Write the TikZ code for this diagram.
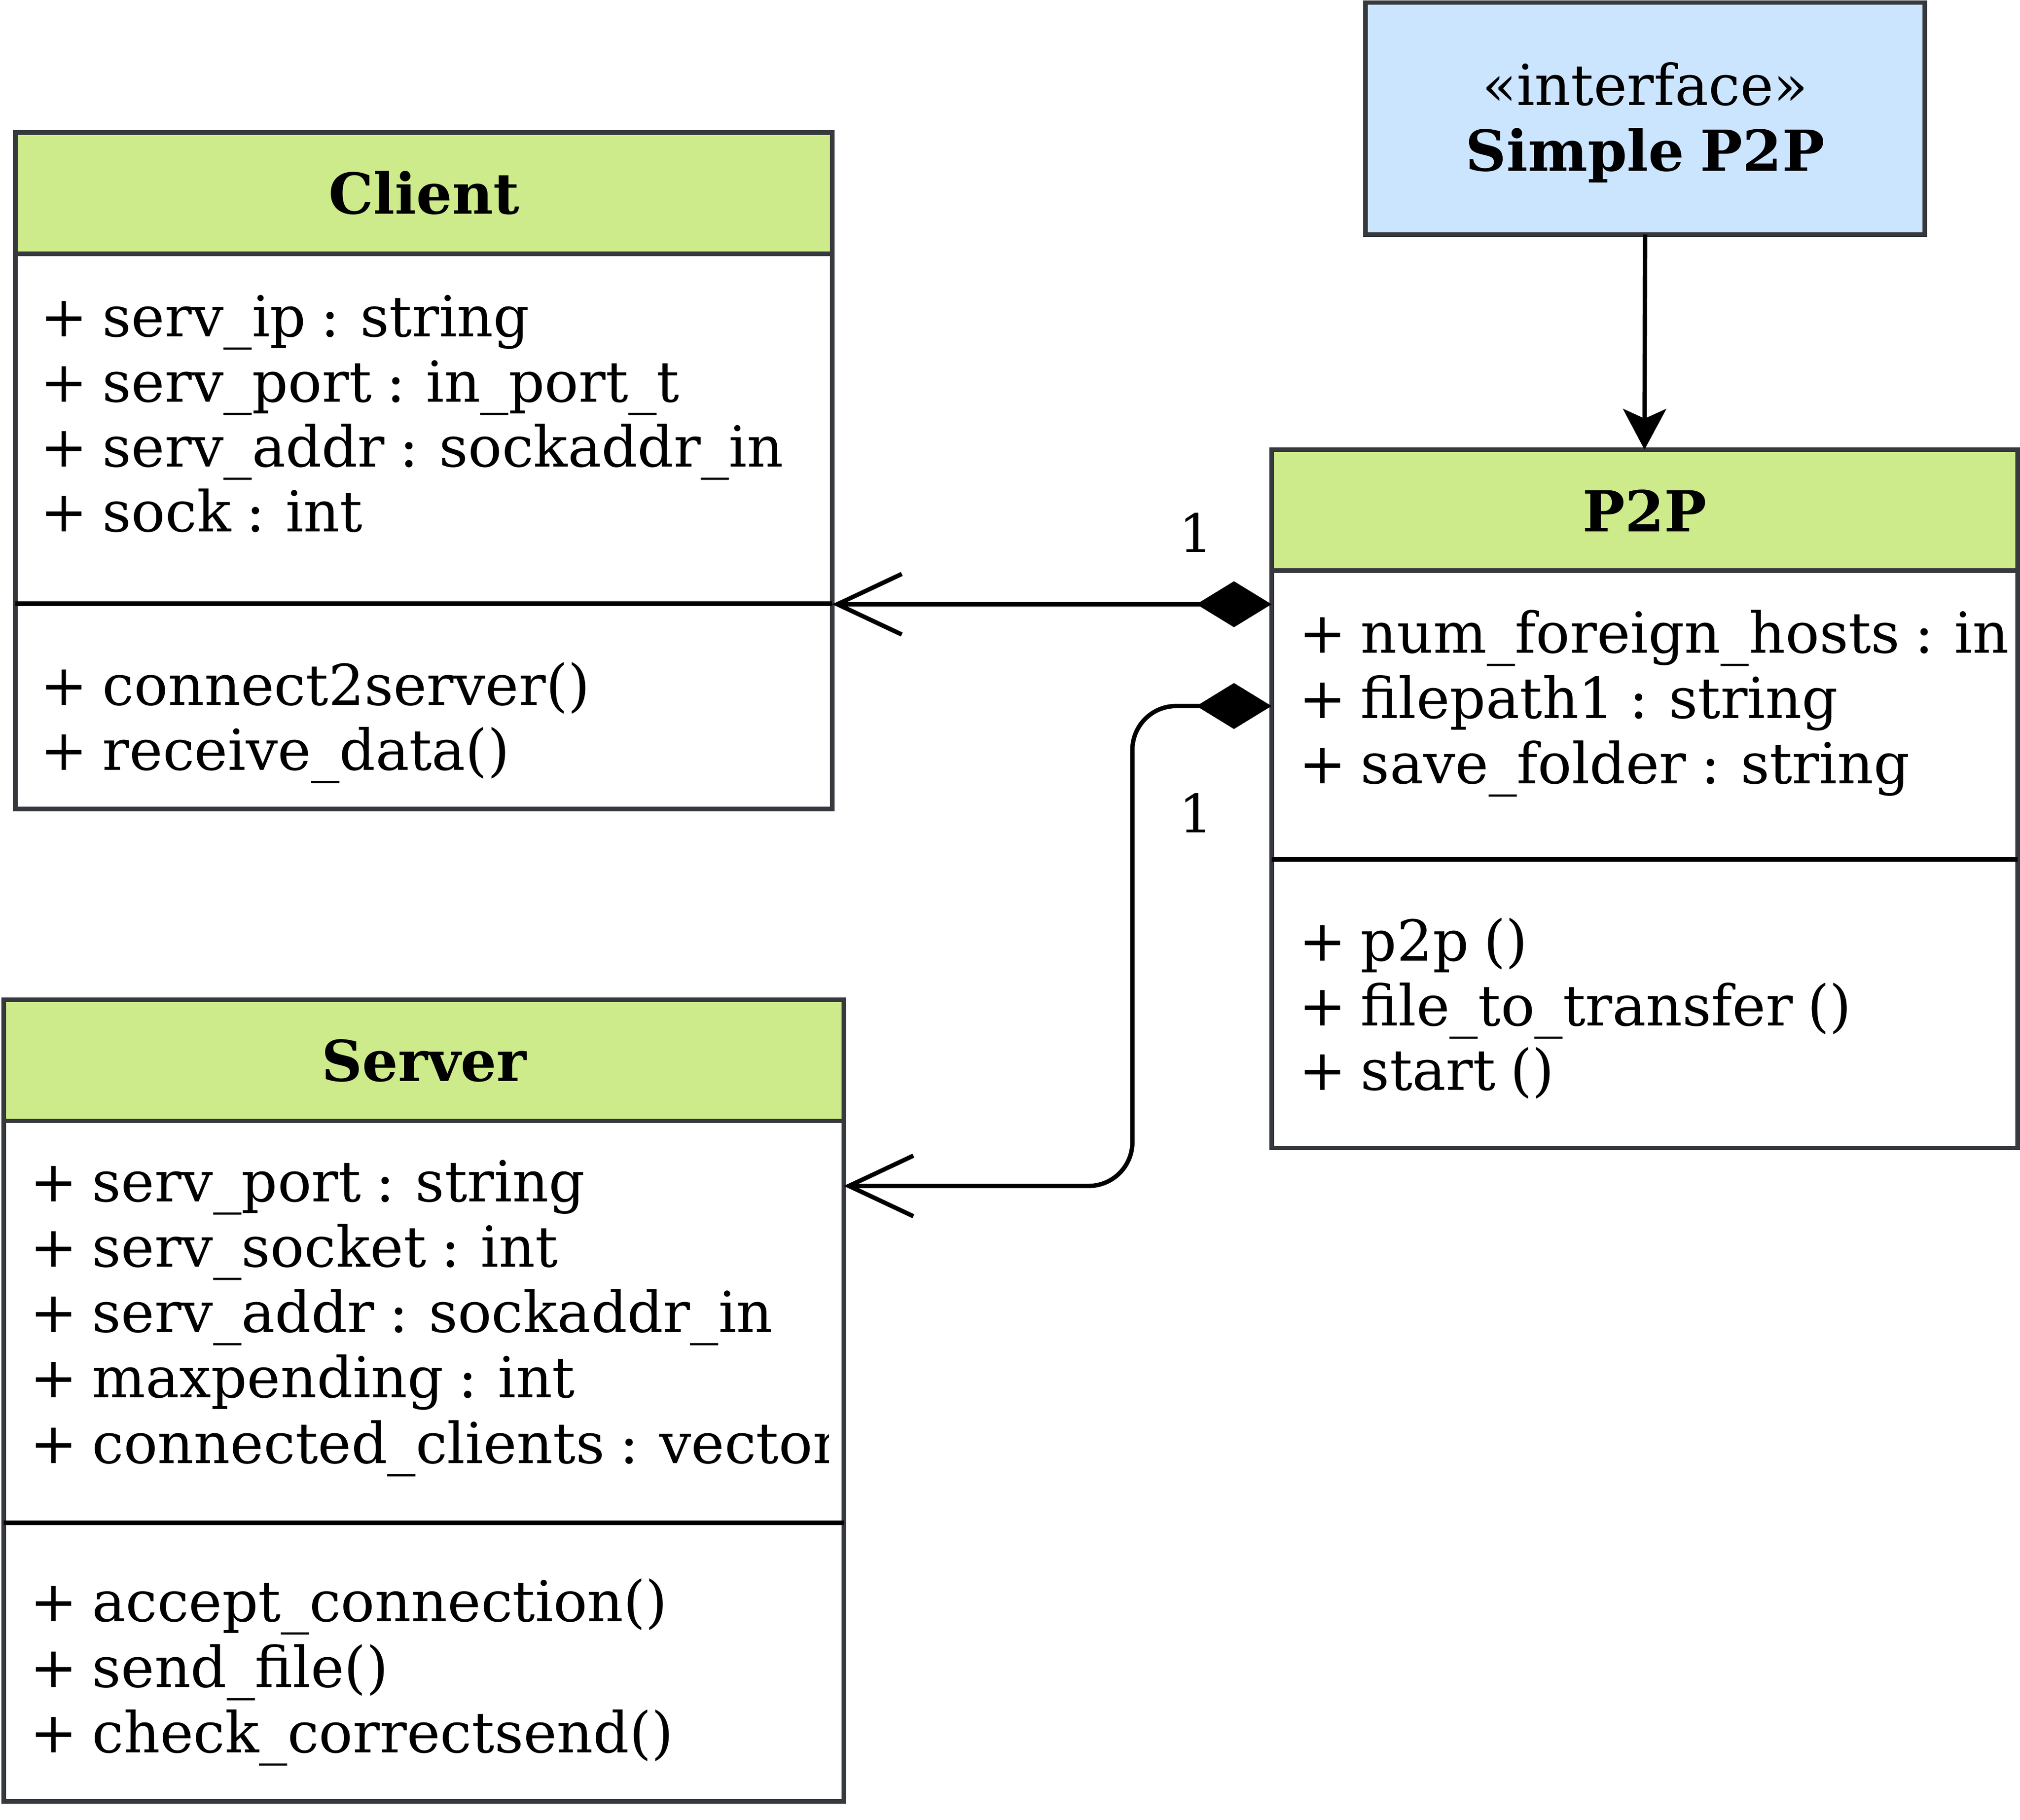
\documentclass[tikz,border=0pt]{standalone}
\usepackage{fontspec}
\setmainfont[WordSpace=0.82]{DejaVu Serif}
\usetikzlibrary{arrows.meta,backgrounds}
\definecolor{hdr}{HTML}{CDEB8B}
\definecolor{bord}{HTML}{36393D}
\definecolor{ifill}{HTML}{CCE5FF}
\tikzset{
  classbox/.style={draw=bord, line width=3.6pt, inner sep=0pt, outer sep=0pt, anchor=north west},
  attr/.style={anchor=base west, inner sep=0pt, font=\fontsize{43.8pt}{50pt}\selectfont},
  ctitle/.style={anchor=base, inner sep=0pt, font=\fontsize{43.8pt}{50pt}\selectfont\bfseries},
  stereo/.style={anchor=base, inner sep=0pt, font=\fontsize{43.8pt}{50pt}\selectfont},
  mult/.style={anchor=base, inner sep=0pt, font=\fontsize{41pt}{46pt}\selectfont},
  divider/.style={draw=black, line width=3.6pt},
  hsep/.style={draw=bord, line width=3.6pt},
  conn/.style={draw=black, line width=3.4pt},
}
\begin{document}
\begin{tikzpicture}[x=1pt,y=1pt]
\useasboundingbox (0,0) rectangle (1568,-1412.3);

% boxes
\node[classbox, minimum width=634pt, minimum height=525pt] (client) at (12,-103) {};
\node[classbox, minimum width=652pt, minimum height=622pt] (server) at (3,-776) {};
\node[classbox, minimum width=579pt, minimum height=542pt] (p2p) at (987,-349) {};
\node[classbox, fill=ifill, minimum width=434pt, minimum height=180pt] (iface) at (1060,-2) {};

\begin{scope}[on background layer]
  \fill[white] (0,0) rectangle (1568,-1412.3);
  \fill[hdr] (client.north west) rectangle ([yshift=-94pt]client.north east);
  \fill[hdr] (server.north west) rectangle ([yshift=-94pt]server.north east);
  \fill[hdr] (p2p.north west) rectangle ([yshift=-94pt]p2p.north east);
\end{scope}

% header separators and dividers
\draw[hsep] ([yshift=-94pt]client.north west) -- ([yshift=-94pt]client.north east);
\draw[hsep] ([yshift=-94pt]server.north west) -- ([yshift=-94pt]server.north east);
\draw[hsep] ([yshift=-94pt]p2p.north west) -- ([yshift=-94pt]p2p.north east);
\draw[divider] ([yshift=-365.5pt]client.north west) -- ([yshift=-365.5pt]client.north east);
\draw[divider] ([yshift=-406pt]server.north west) -- ([yshift=-406pt]server.north east);
\draw[divider] ([yshift=-318pt]p2p.north west) -- ([yshift=-318pt]p2p.north east);

% Client texts
\node[ctitle] (ct) at (329,-166.2) {Client};
\node[attr] (c1) at (31.3,-261.3) {+ serv\_ip : string};
\node[attr] (c2) at (31.3,-311.8) {+ serv\_port : in\_port\_t};
\node[attr] (c3) at (31.3,-362.3) {+ serv\_addr : sockaddr\_in};
\node[attr] (c4) at (31.3,-412.8) {+ sock : int};
\node[attr] (c5) at (31.3,-547.2) {+ connect2server()};
\node[attr] (c6) at (31.3,-597.7) {+ receive\_data()};

% Server texts
\node[ctitle] (st) at (329,-839.2) {Server};
\node[attr] (s1) at (23.2,-932.5) {+ serv\_port : string};
\node[attr] (s2) at (23.2,-983.3) {+ serv\_socket : int};
\node[attr] (s3) at (23.2,-1034.1) {+ serv\_addr : sockaddr\_in};
\node[attr] (s4) at (23.2,-1084.9) {+ maxpending : int};
\begin{scope}
  \clip (3,-1090) rectangle (643.2,-1160);
  \node[attr] (s5) at (23.2,-1135.7) {+ connected\_clients : vector};
\end{scope}
\node[attr] (s6) at (23.2,-1258.6) {+ accept\_connection()};
\node[attr] (s7) at (23.2,-1309.5) {+ send\_file()};
\node[attr] (s8) at (23.2,-1360.4) {+ check\_correctsend()};

% P2P texts
\node[ctitle] (pt) at (1276.5,-412.8) {P2P};
\node[attr] (p1) at (1008,-506.8) {+ num\_foreign\_hosts : in};
\node[attr] (p2) at (1008,-557.5) {+ filepath1 : string};
\node[attr] (p3) at (1008,-608.2) {+ save\_folder : string};
\node[attr] (p4) at (1008,-745.7) {+ p2p ()};
\node[attr] (p5) at (1008,-796.0) {+ file\_to\_transfer ()};
\node[attr] (p6) at (1008,-846.2) {+ start ()};

% Interface texts
\node[stereo] (it1) at (1277,-81.8) {«interface»};
\node[ctitle] (it2) at (1277,-132.8) {Simple P2P};

% multiplicities
\node[mult] (m1) at (928.3,-428.5) {1};
\node[mult] (m2) at (928.3,-646.2) {1};

% connectors
\draw[conn, -{Stealth[length=31.6pt, width=33.5pt, inset=7.5pt]}] (iface.south) -- (p2p.north);
\draw[conn, {Diamond[length=58.3pt, width=35.7pt]}-{Straight Barb[length=50pt, width=47pt]}]
  ([yshift=-120pt]p2p.north west) -- ([yshift=-366pt]client.north east);
\draw[conn, rounded corners=34pt, {Diamond[length=58.3pt, width=35.7pt]}-{Straight Barb[length=50pt, width=47pt]}]
  ([yshift=-199pt]p2p.north west) -- ++(-108pt,0) |- ([yshift=-144.5pt]server.north east);
\end{tikzpicture}
\end{document}
